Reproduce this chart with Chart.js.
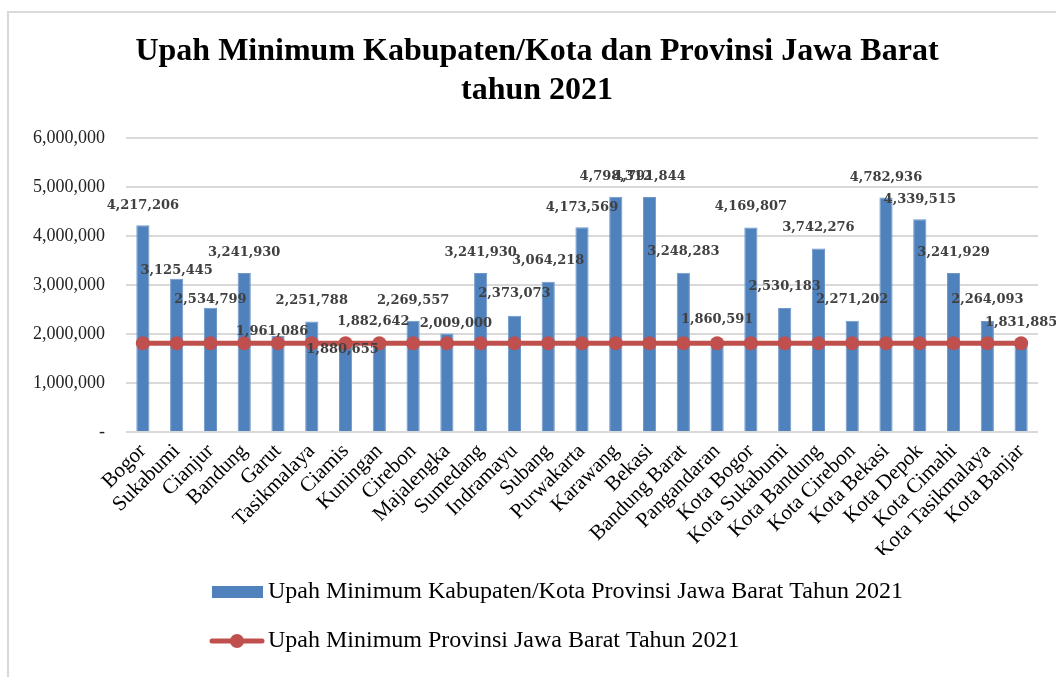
<!DOCTYPE html>
<html>
<head>
<meta charset="utf-8">
<script src="https://cdn.jsdelivr.net/npm/chart.js@4/dist/chart.umd.min.js"></script>
<style>
  html, body { margin: 0; padding: 0; background: #fff; }
  #wrap { position: relative; width: 1056px; height: 677px; overflow: hidden; }
  #chart { display: block; }
  #frame { position: absolute; left: 7px; top: 11px; width: 1100px; height: 700px;
           border-left: 2px solid #d9d9d9; border-top: 2px solid #d9d9d9; pointer-events: none; }
</style>
</head>
<body>
<div id="wrap">
  <canvas id="chart" width="1056" height="677"></canvas>
  <div id="frame"></div>
</div>
<script>
// ---- data ----
const categories = ["Bogor","Sukabumi","Cianjur","Bandung","Garut","Tasikmalaya","Ciamis","Kuningan",
  "Cirebon","Majalengka","Sumedang","Indramayu","Subang","Purwakarta","Karawang","Bekasi",
  "Bandung Barat","Pangandaran","Kota Bogor","Kota Sukabumi","Kota Bandung","Kota Cirebon",
  "Kota Bekasi","Kota Depok","Kota Cimahi","Kota Tasikmalaya","Kota Banjar"];
const umk = [4217206,3125445,2534799,3241930,1961086,2251788,1880655,1882642,
  2269557,2009000,3241930,2373073,3064218,4173569,4798312,4791844,
  3248283,1860591,4169807,2530183,3742276,2271202,
  4782936,4339515,3241929,2264093,1831885];
const ump = [1810351,1810351,1810351,1810351,1810351,1810351,1810351,1810351,
  1810351,1810351,1810351,1810351,1810351,1810351,1810351,1810351,
  1810351,1810351,1810351,1810351,1810351,1810351,
  1810351,1810351,1810351,1810351,1810351];
const seriesNames = ["Upah Minimum Kabupaten/Kota Provinsi Jawa Barat Tahun 2021",
                     "Upah Minimum Provinsi Jawa Barat Tahun 2021"];
const titleLines = ["Upah Minimum Kabupaten/Kota dan Provinsi Jawa Barat", "tahun 2021"];
const yTicks = [0,1000000,2000000,3000000,4000000,5000000,6000000];

// ---- label placement (style) ----
const labelDx = [0,0,0,0,-6,0,-3,-6,0,9,0,0,0,0,0,0,0,0,0,0,0,0,0,0,0,0,0];
const labelDy = [-20,-8,-8,-20,-4,-21,10,-18,-20,-10,-20,-22,-21,-20,-20,-20,-21,-21,-21,-21,-21,-21,-20,-20,-20,-21,-20];

const BLUE = '#4F81BD', RED = '#C0504D';

// legend icons
function makeBarIcon() {
  const c = document.createElement('canvas'); c.width = 51; c.height = 12;
  const g = c.getContext('2d'); g.fillStyle = BLUE; g.fillRect(0,0,51,12); return c;
}
function makeLineIcon() {
  const c = document.createElement('canvas'); c.width = 56; c.height = 16;
  const g = c.getContext('2d');
  g.strokeStyle = RED; g.lineWidth = 5; g.lineCap = 'round';
  g.beginPath(); g.moveTo(3,8); g.lineTo(53,8); g.stroke();
  g.fillStyle = RED; g.beginPath(); g.arc(28,8,7,0,Math.PI*2); g.fill();
  return c;
}
const barIcon = makeBarIcon(), lineIcon = makeLineIcon();

const valueLabels = {
  id: 'valueLabels',
  afterDatasetsDraw(chart) {
    const meta = chart.getDatasetMeta(0);
    const ctx = chart.ctx;
    ctx.save();
    ctx.font = 'bold 13px "DejaVu Serif"';
    ctx.fillStyle = '#404040';
    ctx.textAlign = 'center';
    ctx.textBaseline = 'middle';
    meta.data.forEach((bar, i) => {
      const v = chart.data.datasets[0].data[i];
      ctx.fillText(v.toLocaleString('en-US'), bar.x + labelDx[i], bar.y + labelDy[i]);
    });
    ctx.restore();
  }
};

const boxShift = {
  id: 'boxShift',
  afterLayout(chart) {
    chart.legend.left += 193;
    chart.legend.right += 193;
    chart.titleBlock.left += 18;
    chart.titleBlock.right += 18;
  }
};

new Chart(document.getElementById('chart'), {
  data: {
    labels: categories,
    datasets: [
      { type: 'bar', label: seriesNames[0], data: umk, order: 1,
        backgroundColor: BLUE, borderColor: '#6f97c9', borderWidth: 1,
        barPercentage: 0.39, categoryPercentage: 1.0 },
      { type: 'line', label: seriesNames[1], data: ump, order: 0,
        borderColor: RED, backgroundColor: RED, borderWidth: 5,
        pointRadius: 7, pointBackgroundColor: RED, pointBorderWidth: 0, pointHoverRadius: 7,
        tension: 0 }
    ]
  },
  options: {
    responsive: false,
    animation: false,
    layout: { padding: { left: 0, right: 18, top: 0, bottom: 14 } },
    plugins: {
      tooltip: { enabled: false },
      title: {
        display: true, text: titleLines, color: '#000',
        font: { family: '"Liberation Serif"', size: 32, weight: 'bold', lineHeight: 1.2 },
        padding: { top: 33, bottom: 28 }
      },
      legend: {
        display: true, position: 'bottom', align: 'start',
        labels: {
          usePointStyle: true, pointStyleWidth: 38, padding: 25, color: '#000',
          font: { family: '"Liberation Serif"', size: 24 },
          generateLabels(chart) {
            const items = Chart.defaults.plugins.legend.labels.generateLabels(chart);
            items.sort((a, b) => a.datasetIndex - b.datasetIndex);
            items.forEach(it => { it.pointStyle = it.datasetIndex === 0 ? barIcon : lineIcon; });
            return items;
          }
        }
      }
    },
    scales: {
      x: {
        grid: { display: false, drawTicks: false },
        border: { display: false },
        ticks: { autoSkip: false, minRotation: 45, maxRotation: 45, padding: 7, color: '#000',
                 font: { family: '"Liberation Serif"', size: 21 } },
        afterFit(scale) { scale.height = 123; }
      },
      y: {
        min: 0, max: 6000000,
        afterBuildTicks(scale) { scale.ticks = yTicks.map(v => ({ value: v })); },
        grid: { color: '#d9d9d9', lineWidth: 2, drawTicks: false },
        border: { display: false },
        ticks: { padding: 21, color: '#222',
                 font: { family: '"Liberation Serif"', size: 18 },
                 callback: v => v === 0 ? '-' : Number(v).toLocaleString('en-US') },
        afterFit(scale) { scale.width = 126; }
      }
    }
  },
  plugins: [valueLabels, boxShift]
});
</script>
</body>
</html>
